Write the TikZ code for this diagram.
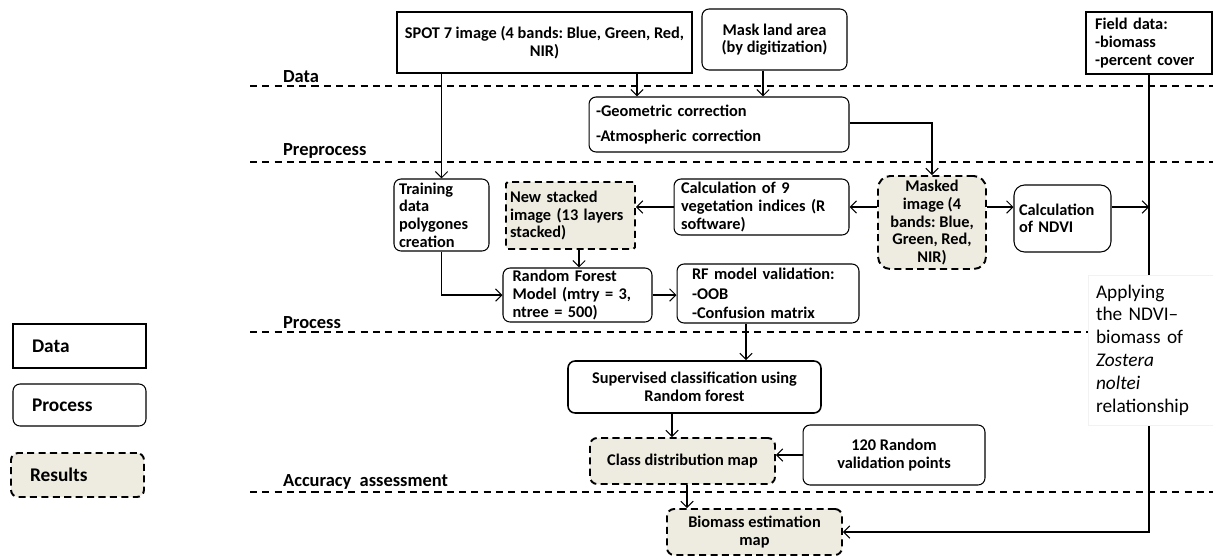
\documentclass[tikz,border=0pt]{standalone}
\usepackage{fontspec}
\setmainfont{Carlito}
\usetikzlibrary{arrows.meta}
\definecolor{resfill}{HTML}{EEECE1}
\frenchspacing

\begin{document}
\begin{tikzpicture}[x=0.02cm,y=-0.02cm,
		font=\fontsize{9.3}{10}\selectfont\bfseries,
		datbox/.style={draw,line width=1.3pt,inner xsep=0.14cm,inner ysep=1pt},
		probox/.style={draw,rounded corners=4pt,line width=0.6pt,inner xsep=0.14cm,inner ysep=1pt},
		resbox/.style={draw,rounded corners=4pt,line width=1.1pt,dash pattern=on 4pt off 2.5pt,fill=resfill,inner xsep=0.14cm,inner ysep=1pt},
		sep/.style={line width=0.6pt,dash pattern=on 4pt off 3pt},
		arr/.style={-{Straight Barb[length=3.5pt,width=7pt]},line width=0.6pt}]
		\useasboundingbox (0,0) rectangle (1213,558);
		\foreach \y/\lab in {86/Data,162/Preprocess,332/Process,492/Accuracy\ \ assessment}
		{
			\draw[sep] (250,\y) -- (1213,\y);
			\node[anchor=south west,inner sep=1pt,font=\fontsize{10.5}{12}\selectfont\bfseries] (lab\y) at (281,\y-1) {\lab};
		}
		\node[datbox,minimum width=5.9cm,minimum height=1.22cm,align=center] (spot) at (544.5,42.5) {SPOT 7 image (4 bands: Blue, Green, Red,\\NIR)};
		\node[probox,minimum width=2.9cm,minimum height=1.22cm,align=center] (mask) at (774.5,39.5) {Mask land area\\(by digitization)};
		\node[datbox,minimum width=2.52cm,minimum height=1.24cm,text width=2.16cm,inner xsep=0.18cm,align=left] (field) at (1149,43) {Field data:\\-biomass\\-percent cover};
		\node[probox,minimum width=5.2cm,minimum height=1.1cm,text width=4.92cm,align=left] (geo) at (719,124.5) {-Geometric correction\\[4pt]-Atmospheric correction};
		\node[probox,minimum width=1.9cm,minimum height=1.44cm,text width=1.7cm,inner xsep=0.1cm,align=left] (train) at (441.5,215) {Training\\data\\polygones\\creation};
		\node[resbox,rounded corners=1pt,minimum width=2.58cm,minimum height=1.34cm,text width=2.42cm,inner xsep=0.08cm,align=left] (stack) at (570.5,215.5) {New stacked\\image (13 layers\\stacked)\\[6pt]};
		\node[probox,minimum width=3.5cm,minimum height=1.12cm,text width=3.22cm,align=left] (calc) at (761.5,207) {Calculation of 9\\vegetation indices (R\\software)};
		\node[resbox,rounded corners=7pt,minimum width=2.16cm,minimum height=1.86cm,align=center] (masked) at (932,222.5) {Masked\\image (4\\bands: Blue,\\Green, Red,\\NIR)};
		\node[probox,rounded corners=6pt,minimum width=1.94cm,minimum height=1.34cm,text width=1.74cm,inner xsep=0.1cm,align=left] (ndvi) at (1062.5,218.5) {Calculation\\of NDVI};
		\node[probox,minimum width=2.98cm,minimum height=1.08cm,text width=2.6cm,inner xsep=0.19cm,align=left] (rf) at (577.5,295) {Random Forest\\Model (mtry = 3,\\ntree = 500)};
		\node[probox,minimum width=3.64cm,minimum height=1.18cm,text width=3.04cm,inner xsep=0.3cm,align=left] (rfval) at (768,293.5) {RF model validation:\\[1pt]-OOB\\[1pt]-Confusion matrix};
		\node[probox,line width=0.9pt,minimum width=5.06cm,minimum height=1.04cm,align=center] (sup) at (694.5,387) {Supervised classification using\\Random forest};
		\node[resbox,minimum width=3.7cm,minimum height=0.92cm,align=center] (class) at (682.5,461) {Class distribution map};
		\node[probox,minimum width=3.64cm,minimum height=1.2cm,align=center] (rand) at (894,455) {120 Random\\validation points};
		\node[resbox,minimum width=3.5cm,minimum height=0.92cm,align=center] (bio) at (754.5,532) {Biomass estimation\\map};
		\begin{scope}[every node/.append style={minimum width=2.66cm,text width=1.9cm,inner xsep=0.38cm,align=left,font=\fontsize{11}{12}\selectfont\bfseries}]
		\node[datbox,minimum height=0.88cm] (legdat) at (79.5,346) {Data};
		\node[probox,minimum height=0.84cm] (legpro) at (79.5,405) {Process};
		\node[resbox,minimum height=0.88cm] (legres) at (77.5,475) {Results};
		\end{scope}
		\draw[arr] ([xshift=1.85cm]spot.south) -- ([xshift=1.85cm]spot.south |- geo.north);
		\draw[arr] ([xshift=-0.23cm]mask.south) -- ([xshift=-0.23cm]mask.south |- geo.north);
		\draw[arr] ([yshift=0.03cm]geo.east) -| (masked.north);
		\draw[arr] (spot.south -| train.north) -- (train.north);
		\draw[arr] (calc.west) -- (calc.west -| stack.east);
		\draw[arr] (masked.west |- calc.west) -- (calc.east);
		\draw[arr] (masked.east |- calc.east) -- (ndvi.west |- calc.east);
		\coordinate (tie) at (field.south |- calc.east);
		\draw[arr] (ndvi.east |- calc.east) -- (tie);
		\draw[arr] ([xshift=0.17cm]stack.south) -- ([xshift=0.17cm]stack.south |- rf.north);
		\draw[arr] (train.south) |- (rf.west);
		\draw[arr] (rf.east) -- (rf.east -| rfval.west);
		\draw[arr] ([xshift=-0.44cm]rfval.south) -- ([xshift=-0.44cm]rfval.south |- sup.north);
		\draw[arr] ([xshift=-0.45cm]sup.south) -- ([xshift=-0.45cm]sup.south |- class.north);
		\draw[arr] (rand.west) -- (rand.west -| class.east);
		\draw[arr] ([xshift=0.09cm]class.south) -- ([xshift=0.09cm]class.south |- bio.north);
		\draw[arr] (field.south) |- (bio.east);
		\node[fill=white,draw=black!5,minimum width=2.5cm,minimum height=3cm,text width=2.18cm,inner xsep=0.16cm,align=left,font=\fontsize{11}{13}\selectfont] (apply) at (1150.5,350) {Applying\\the NDVI–\\biomass of\\\textit{Zostera}\\\textit{noltei}\\relationship};
	\end{tikzpicture}
\end{document}
